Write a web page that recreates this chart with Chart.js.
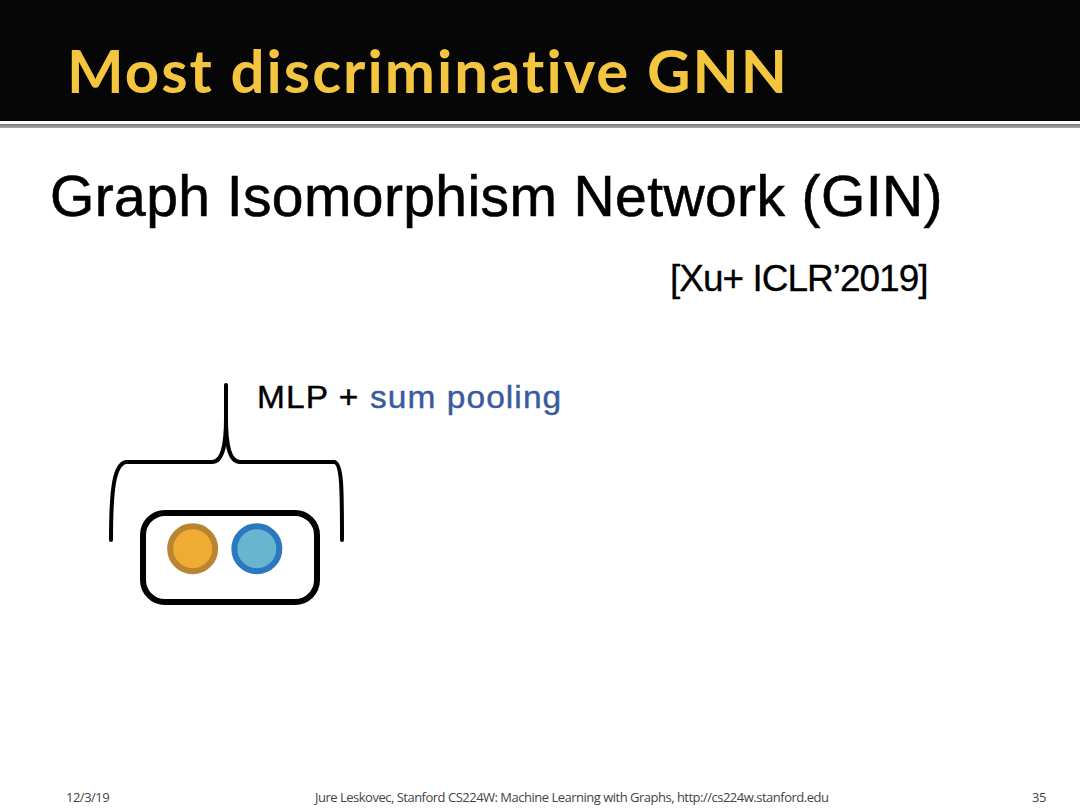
<!DOCTYPE html>
<html>
<head>
<meta charset="utf-8">
<script src="https://cdn.jsdelivr.net/npm/chart.js@4.4.1/dist/chart.umd.min.js"></script>
<style>
  html, body { margin: 0; padding: 0; background: #fff; }
  #slide { position: relative; width: 1080px; height: 810px; overflow: hidden; background: #fff; }
  #header { position: absolute; left: 0; top: 0; width: 1080px; height: 121px; background: #060606; }
  #rule { position: absolute; left: 0; top: 124px; width: 1080px; height: 4px;
          background: linear-gradient(#777, #aaa); }
  .t { position: absolute; white-space: nowrap; line-height: 1; }
  #title { left: 67px; top: 34px; font: bold 60px Lato, sans-serif; color: #f4c53f;
           letter-spacing: 2px; }
  #subtitle { left: 50px; top: 163px; font: 57px "Liberation Sans", Arial, sans-serif;
              color: #000; letter-spacing: 0.4px; -webkit-text-stroke: 0.6px #000; }
  #cite { left: 670px; top: 258px; font: 37px "Liberation Sans", Arial, sans-serif;
          color: #000; letter-spacing: -1px; -webkit-text-stroke: 0.3px #000; }
  #label { left: 257px; top: 380px; font: 31px "Liberation Sans", Arial, sans-serif;
           color: #000; letter-spacing: 1px; transform: scaleX(1.08); transform-origin: left top;
           -webkit-text-stroke: 0.4px #000; }
  #label span { color: #3a5a9f; -webkit-text-stroke: 0.4px #3a5a9f; }
  .foot { top: 789px; font: 13px "Open Sans", sans-serif; color: #444; letter-spacing: -0.5px;
          line-height: 16px; }
  #chartBox { position: absolute; left: 100px; top: 370px; width: 260px; height: 250px; }
</style>
</head>
<body>
<div id="slide">
  <div id="header"></div>
  <div id="rule"></div>
  <div class="t" id="title">Most discriminative GNN</div>
  <div class="t" id="subtitle">Graph Isomorphism Network (GIN)</div>
  <div class="t" id="cite">[Xu+ ICLR’2019]</div>
  <div class="t" id="label">MLP + <span>sum pooling</span></div>
  <div class="t foot" style="left:66px">12/3/19</div>
  <div class="t foot" style="left:315px">Jure Leskovec, Stanford CS224W: Machine Learning with Graphs, http://cs224w.stanford.edu</div>
  <div class="t foot" style="left:1032px">35</div>
  <div id="chartBox"><canvas id="nodes"></canvas></div>
</div>
<script>
// two node embeddings inside the pooled set
const nodeNames = ['orange node', 'blue node'];
const nodeX = [1, 2];
const nodeY = [1, 1];
const nodeFill = ['#f0ab35', '#67b5d0'];
const nodeStroke = ['#b98530', '#2b77c0'];

// brace + rounded box around the nodes
const decor = {
  id: 'decor',
  beforeDatasetsDraw(chart) {
    const c = chart.ctx;
    c.save();
    c.strokeStyle = '#000';
    c.lineCap = 'round';
    c.lineJoin = 'round';
    // rounded rect (canvas coords: slide minus 100,370)
    const x = 43, y = 143, w = 174, h = 89, r = 22;
    c.lineWidth = 6;
    c.beginPath();
    c.moveTo(x + r, y);
    c.arcTo(x + w, y, x + w, y + h, r);
    c.arcTo(x + w, y + h, x, y + h, r);
    c.arcTo(x, y + h, x, y, r);
    c.arcTo(x, y, x + w, y, r);
    c.closePath();
    c.stroke();
    // brace
    c.lineWidth = 4;
    c.beginPath();
    c.moveTo(11, 170);
    c.bezierCurveTo(11, 120, 14, 94, 26, 92);
    c.lineTo(112, 92);
    c.bezierCurveTo(124, 92, 126, 70, 126, 48);
    c.lineTo(126, 15);
    c.moveTo(126, 48);
    c.bezierCurveTo(126, 70, 128, 92, 140, 92);
    c.lineTo(234, 92);
    c.bezierCurveTo(242, 92, 242, 120, 242, 170);
    c.stroke();
    c.restore();
  }
};

new Chart(document.getElementById('nodes'), {
  type: 'scatter',
  data: {
    labels: nodeNames,
    datasets: [{
      data: nodeX.map((v, i) => ({ x: v, y: nodeY[i] })),
      backgroundColor: nodeFill,
      borderColor: nodeStroke,
      borderWidth: 6,
      pointRadius: 22.5,
      pointHoverRadius: 22.5
    }]
  },
  options: {
    responsive: true,
    maintainAspectRatio: false,
    animation: false,
    layout: { padding: { left: 20, right: 39, top: 136, bottom: 14 } },
    scales: {
      x: { display: false, min: 0, max: 3 },
      y: { display: false, min: 0, max: 2 }
    },
    plugins: { legend: { display: false }, tooltip: { enabled: false } }
  },
  plugins: [decor]
});
</script>
</body>
</html>
